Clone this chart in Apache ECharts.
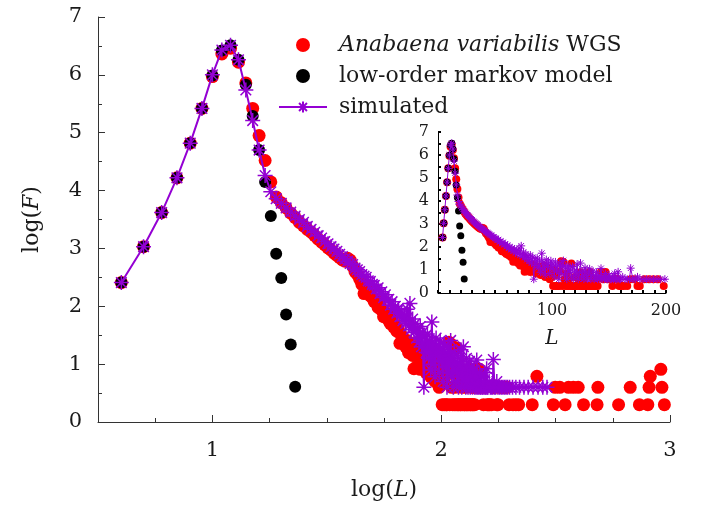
<!DOCTYPE html>
<html><head><meta charset="utf-8">
<script src="https://cdn.jsdelivr.net/npm/echarts@6/dist/echarts.min.js"></script>
<style>html,body{margin:0;padding:0;background:#fff}#c{width:709px;height:512px}</style>
</head><body><div id="c"></div>
<script>
// ---------------- data (L = length, logF = log10 of frequency) ----------------
const nameObs = 'Anabaena variabilis WGS';
const nameModel = 'low-order markov model';
const nameSim = 'simulated';

const L_model = [4,5,6,7,8,9,10,11,12,13,14,15,16,17,18,19,20,21,22,23];
const logF_model = [2.41,3.03,3.62,4.22,4.82,5.42,5.99,6.42,6.51,6.26,5.83,5.29,4.70,4.15,3.56,2.91,2.49,1.86,1.34,0.61];

const L_obs = [4,5,6,7,8,9,10,11,12,13,14,15,16,17,18,19,20,21,22,23,
  24,25,26,27,28,29,30,31,32,33,34,35,36,37,38,39,40,41,42,43,44,45,46,47,48,49,50,
  51,52,53,54,55,56,57,58,59,60,61,62,63,64,65,66,67,68,69,70,71,72,73,74,75,
  76,77,78,79,80,81,82,83,84,85,86,87,88,89,90,91,92,93,94,95,96,97,98,99,100,
  101,102,103,104,105,106,107,108,109,110,111,112,113,114,115,116,117,118,119,120,
  121,122,123,124,125,126,127,128,129,130,131,132,133,134,135,136,137,138,139,140,
  143,145,147,149,153,155,157,159,161,163,166,169,172,175,177,181,185,189,193,198,
  206,212,218,250,262,309,315,330,348,360,378,397,419,480,484,596,670,735,800,810,820,912,922,945];
const logF_obs = [2.41,3.03,3.62,4.22,4.82,5.42,5.97,6.36,6.46,6.22,5.86,5.42,4.95,4.52,4.15,3.89,3.79,3.70,3.61,3.53,
  3.45,3.39,3.33,3.28,3.22,3.16,3.11,3.06,3.01,2.97,2.92,2.88,2.84,2.80,2.78,2.83,2.80,2.70,2.60,2.55,2.47,2.38,2.22,2.32,2.25,2.18,2.15,
  2.08,2.10,1.98,2.03,1.93,1.82,1.86,1.88,1.75,1.70,1.78,1.64,1.68,1.57,1.60,1.36,1.50,1.46,1.40,1.30,1.41,1.20,1.36,1.25,1.15,
  0.92,1.30,0.95,1.18,1.10,0.91,1.25,1.05,0.95,1.20,0.85,1.00,0.90,1.15,0.78,1.04,0.85,1.20,0.70,0.95,0.85,1.08,0.60,0.90,0.70,
  0.30,1.00,0.30,0.78,0.30,0.30,0.95,1.38,0.30,1.35,0.60,0.30,0.85,0.30,0.60,0.30,1.28,0.30,0.30,0.70,
  0.30,0.30,0.60,0.30,0.90,0.30,0.30,0.60,0.30,0.30,0.78,0.30,0.91,0.30,0.30,0.60,0.30,0.30,0.60,0.30,
  0.92,0.60,0.91,0.60,0.30,0.60,0.62,0.30,0.30,0.30,0.30,0.60,0.60,0.30,0.30,0.60,0.60,0.60,0.60,0.30,
  0.30,0.30,0.30,0.30,0.79,0.30,0.60,0.60,0.30,0.60,0.60,0.60,0.30,0.30,0.60,0.30,0.60,0.30,0.30,0.60,0.79,0.91,0.60,0.30];

const L_sim = [4,5,6,7,8,9,10,11,12,13,14,15,16,17,18,19,20,21,22,23,
  24,25,26,27,28,29,30,31,32,33,34,35,36,37,38,39,40,41,42,43,44,45,46,47,48,49,50,
  51,52,53,54,55,56,57,58,59,60,61,62,63,64,65,66,67,68,69,70,71,72,73,74,75,
  76,77,78,79,80,81,82,83,84,85,86,87,88,89,90,91,92,93,94,95,96,97,98,99,100,
  101,102,103,104,105,106,107,108,109,110,111,112,113,114,115,116,117,118,119,120,
  121,122,123,124,125,126,127,128,129,130,131,132,133,134,135,136,137,138,139,140,
  141,142,143,144,145,146,147,148,149,150,151,152,153,154,155,156,157,158,159,160,
  162,164,166,168,169,171,173,175,177,180,183,186,189,192,195,199,205,212,220,230,240,252,265,278,290];
const logF_sim = [2.41,3.03,3.62,4.22,4.82,5.42,6.00,6.43,6.51,6.26,5.74,5.21,4.70,4.26,3.98,3.86,3.78,3.70,3.63,3.56,
  3.50,3.45,3.38,3.33,3.28,3.22,3.18,3.12,3.08,3.03,2.99,2.95,2.90,2.86,2.82,2.78,2.74,2.72,2.66,2.63,2.60,2.55,2.52,2.50,2.44,2.43,2.38,
  2.36,2.30,2.32,2.22,2.25,2.15,2.20,2.10,2.12,2.02,2.08,1.95,2.00,1.88,1.96,1.82,1.90,1.75,1.85,1.70,1.95,1.66,2.05,1.60,1.78,
  1.55,1.70,1.45,1.62,1.38,1.65,1.30,1.55,0.60,1.48,1.20,1.52,1.10,1.40,0.90,1.73,1.00,1.35,0.78,1.45,1.15,1.30,0.85,1.40,1.05,
  1.25,0.70,1.35,0.95,1.20,0.60,1.30,0.85,1.15,1.41,0.78,1.10,0.60,1.20,0.90,1.05,0.70,1.15,0.60,1.00,
  0.78,1.25,0.60,0.90,1.30,0.70,0.95,0.60,1.10,0.78,0.60,0.90,1.05,0.60,0.78,0.95,0.60,0.70,0.90,0.60,
  0.78,0.60,1.07,0.60,0.70,0.60,0.85,0.60,0.60,0.78,0.60,0.60,0.70,0.60,0.85,0.60,0.60,0.92,0.60,0.60,
  0.70,0.60,0.60,0.60,1.08,0.60,0.60,0.70,0.60,0.60,0.60,0.60,0.60,0.60,0.60,0.60,0.60,0.60,0.60,0.60,0.60,0.60,0.60,0.60,0.60];

const mainXLabels = [1,2,3];
const mainYLabels = [0,1,2,3,4,5,6,7];
const insetXLabels = [100,200];
const insetYLabels = [0,1,2,3,4,5,6,7];

// ---------------- chart ----------------
const FONT = 'DejaVu Serif';
const TXT = '#1a1a1a';
const AX = '#333';
const RED = '#ff0000', BLK = '#000000', PUR = '#9400d3';
const STAR = 'path://M10,0L10,20M0,10L20,10M2.93,2.93L17.07,17.07M2.93,17.07L17.07,2.93';

const toLog = (Ls, Fs) => Ls.map((L, i) => [Math.log10(L), Fs[i]]);
const toLin = (Ls, Fs) => Ls.map((L, i) => [L, Fs[i]]);
const isLab = (list, v) => list.some(t => Math.abs(t - v) < 1e-6);

const chart = echarts.init(document.getElementById('c'), null, {renderer: 'canvas'});
chart.setOption({
  animation: false,
  backgroundColor: '#ffffff',
  legend: {
    data: [nameObs, nameModel, nameSim],
    orient: 'vertical', left: 278, top: 33, padding: 0,
    itemWidth: 48, itemHeight: 14, itemGap: 7,
    selectedMode: false,
    formatter: n => n === nameObs ? '{i|Anabaena variabilis} WGS' : n,
    textStyle: {
      fontFamily: FONT, fontSize: 22, color: TXT, lineHeight: 24, padding: [0, 0, 0, 7],
      rich: {i: {fontFamily: FONT, fontSize: 22, fontStyle: 'italic', color: TXT, lineHeight: 24}}
    }
  },
  grid: [
    {left: 98, right: 39, top: 17, bottom: 90},
    {left: 438, right: 43, top: 132, bottom: 219},
    {left: 98 + 114.4, right: 39, top: 17, bottom: 90}
  ],
  xAxis: [
    {
      type: 'value', gridIndex: 0, min: 0.5, max: 3, interval: 0.25,
      name: 'log({i|L})', nameLocation: 'middle', nameGap: 57,
      nameTextStyle: {fontFamily: FONT, fontSize: 22, color: TXT,
        rich: {i: {fontFamily: FONT, fontSize: 22, fontStyle: 'italic', color: TXT}}},
      axisLine: {show: true, lineStyle: {color: AX, width: 1}},
      axisTick: {show: true, inside: true, length: 4, lineStyle: {color: AX}},
      axisLabel: {fontFamily: FONT, fontSize: 21, color: TXT, margin: 18,
        formatter: v => isLab(mainXLabels, v) ? String(Math.round(v)) : ''},
      splitLine: {show: false}
    },
    {
      type: 'value', gridIndex: 1, min: 0, max: 200, interval: 10,
      name: '{i|L}', nameLocation: 'middle', nameGap: 36,
      nameTextStyle: {fontFamily: FONT, fontSize: 20, color: TXT,
        rich: {i: {fontFamily: FONT, fontSize: 20, fontStyle: 'italic', color: TXT}}},
      axisLine: {show: true, lineStyle: {color: BLK, width: 1}},
      axisTick: {show: true, inside: true, length: 3, lineStyle: {color: BLK, width: 2}},
      axisLabel: {fontFamily: FONT, fontSize: 16, color: TXT, margin: 10,
        formatter: v => isLab(insetXLabels, v) ? String(Math.round(v)) : ''},
      splitLine: {show: false}
    },
    {
      type: 'value', gridIndex: 2, min: 1, max: 3, interval: 1,
      axisLine: {show: false},
      axisTick: {show: true, inside: true, length: 7, lineStyle: {color: AX}},
      axisLabel: {show: false}, splitLine: {show: false}
    }
  ],
  yAxis: [
    {
      type: 'value', gridIndex: 0, min: 0, max: 7, interval: 1,
      name: 'log({i|F})', nameLocation: 'middle', nameGap: 55, nameRotate: 90,
      nameTextStyle: {fontFamily: FONT, fontSize: 22, color: TXT,
        rich: {i: {fontFamily: FONT, fontSize: 22, fontStyle: 'italic', color: TXT}}},
      axisLine: {show: true, lineStyle: {color: AX, width: 1}},
      axisTick: {show: true, inside: true, length: 7, lineStyle: {color: AX}},
      minorTick: {show: true, splitNumber: 2, length: 4, lineStyle: {color: AX}},
      axisLabel: {fontFamily: FONT, fontSize: 21, color: TXT, margin: 16,
        formatter: v => isLab(mainYLabels, v) ? String(Math.round(v)) : ''},
      splitLine: {show: false}
    },
    {
      type: 'value', gridIndex: 1, min: 0, max: 7, interval: 0.5,
      axisLine: {show: true, lineStyle: {color: BLK, width: 1}},
      axisTick: {show: true, inside: true, length: 3, lineStyle: {color: BLK, width: 2}},
      axisLabel: {fontFamily: FONT, fontSize: 16, color: TXT, margin: 9,
        formatter: v => isLab(insetYLabels, v) ? String(Math.round(v)) : ''},
      splitLine: {show: false}
    },
    {type: 'value', gridIndex: 2, min: 0, max: 7, show: false}
  ],
  series: [
    {name: nameObs, type: 'scatter', xAxisIndex: 0, yAxisIndex: 0, data: toLog(L_obs, logF_obs),
      symbol: 'circle', symbolSize: 13, itemStyle: {color: RED, opacity: 1}, z: 2},
    {name: nameModel, type: 'scatter', xAxisIndex: 0, yAxisIndex: 0, data: toLog(L_model, logF_model),
      symbol: 'circle', symbolSize: 12, itemStyle: {color: BLK, opacity: 1}, z: 3},
    {name: nameSim, type: 'line', xAxisIndex: 0, yAxisIndex: 0, data: toLog(L_sim, logF_sim),
      symbol: STAR, symbolSize: 15, showSymbol: true,
      lineStyle: {color: PUR, width: 2},
      itemStyle: {color: 'rgba(0,0,0,0)', borderColor: PUR, borderWidth: 1.5}, z: 4},
    {name: nameObs, type: 'scatter', xAxisIndex: 1, yAxisIndex: 1, data: toLin(L_obs, logF_obs),
      symbol: 'circle', symbolSize: 8, itemStyle: {color: RED, opacity: 1}, z: 2},
    {name: nameModel, type: 'scatter', xAxisIndex: 1, yAxisIndex: 1, data: toLin(L_model, logF_model),
      symbol: 'circle', symbolSize: 7, itemStyle: {color: BLK, opacity: 1}, z: 3},
    {name: nameSim, type: 'line', xAxisIndex: 1, yAxisIndex: 1, data: toLin(L_sim, logF_sim),
      symbol: STAR, symbolSize: 8, showSymbol: true,
      lineStyle: {color: PUR, width: 1},
      itemStyle: {color: 'rgba(0,0,0,0)', borderColor: PUR, borderWidth: 1}, z: 4}
  ]
});
</script>
</body></html>
